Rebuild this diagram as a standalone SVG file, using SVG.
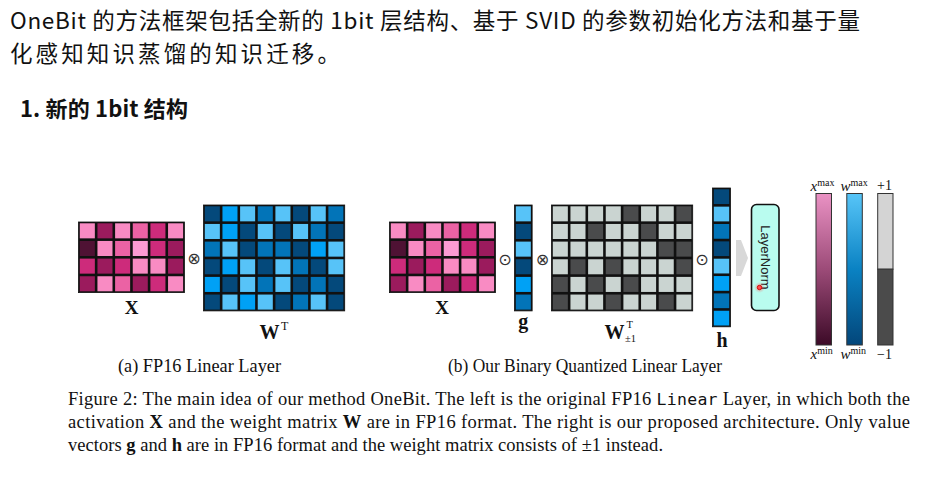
<svg xmlns="http://www.w3.org/2000/svg" xmlns:xlink="http://www.w3.org/1999/xlink" width="927" height="481" viewBox="0 0 927 481">
<style>
.cjk{font-family:"Noto Sans CJK SC","Noto Sans",sans-serif;fill:#111}
.serif{font-family:"Liberation Serif","Times New Roman",serif;fill:#111}
.bold{font-weight:bold}
.mono{font-family:"DejaVu Sans Mono","Liberation Mono",monospace}
.op{font-family:"DejaVu Sans",sans-serif;font-size:16px;fill:#333;text-anchor:middle}
.bg{fill:#111;stroke:#111;stroke-width:0.8}
.p1{fill:#F98BC3}.p2{fill:#9B1B5D}.p3{fill:#EB62A4}.p4{fill:#CD2B7B}.p5{fill:#4F1234}.p6{fill:#FC9BD3}
.b1{fill:#04497B}.b2{fill:#00A1F5}.b3{fill:#57C3F8}.b4{fill:#0274B8}
.gl{fill:#CAD4D1}.gd{fill:#4A4B4C}
.bar{stroke:#333;stroke-width:1}
</style>
<defs>
<linearGradient id="gx" x1="0" y1="0" x2="0" y2="1">
<stop offset="0" stop-color="#EA92C4"/><stop offset="0.5" stop-color="#9C4B78"/><stop offset="1" stop-color="#3C0A27"/>
</linearGradient>
<linearGradient id="gw" x1="0" y1="0" x2="0" y2="1">
<stop offset="0" stop-color="#57C5F8"/><stop offset="0.5" stop-color="#0A82C3"/><stop offset="1" stop-color="#03467A"/>
</linearGradient>
<radialGradient id="glow"><stop offset="0" stop-color="#ff3030" stop-opacity="0.6"/><stop offset="1" stop-color="#ff6060" stop-opacity="0"/></radialGradient>
<g id="xgrid">
<rect class="bg" width="105.9" height="70.6"/>
<rect x="1.3" y="1.3" width="15.05" height="15.05" class="p1"/><rect x="18.95" y="1.3" width="15.05" height="15.05" class="p2"/><rect x="36.6" y="1.3" width="15.05" height="15.05" class="p1"/><rect x="54.25" y="1.3" width="15.05" height="15.05" class="p3"/><rect x="71.9" y="1.3" width="15.05" height="15.05" class="p4"/><rect x="89.55" y="1.3" width="15.05" height="15.05" class="p1"/>
<rect x="1.3" y="18.95" width="15.05" height="15.05" class="p5"/><rect x="18.95" y="18.95" width="15.05" height="15.05" class="p1"/><rect x="36.6" y="18.95" width="15.05" height="15.05" class="p3"/><rect x="54.25" y="18.95" width="15.05" height="15.05" class="p6"/><rect x="71.9" y="18.95" width="15.05" height="15.05" class="p4"/><rect x="89.55" y="18.95" width="15.05" height="15.05" class="p2"/>
<rect x="1.3" y="36.6" width="15.05" height="15.05" class="p4"/><rect x="18.95" y="36.6" width="15.05" height="15.05" class="p2"/><rect x="36.6" y="36.6" width="15.05" height="15.05" class="p4"/><rect x="54.25" y="36.6" width="15.05" height="15.05" class="p1"/><rect x="71.9" y="36.6" width="15.05" height="15.05" class="p1"/><rect x="89.55" y="36.6" width="15.05" height="15.05" class="p2"/>
<rect x="1.3" y="54.25" width="15.05" height="15.05" class="p2"/><rect x="18.95" y="54.25" width="15.05" height="15.05" class="p1"/><rect x="36.6" y="54.25" width="15.05" height="15.05" class="p3"/><rect x="54.25" y="54.25" width="15.05" height="15.05" class="p2"/><rect x="71.9" y="54.25" width="15.05" height="15.05" class="p4"/><rect x="89.55" y="54.25" width="15.05" height="15.05" class="p1"/>
</g>
</defs>

<rect width="927" height="481" fill="#ffffff"/>

<g id="title">
<text class="cjk" x="10" y="29" font-size="22.5" textLength="850" lengthAdjust="spacing">OneBit 的方法框架包括全新的 1bit 层结构、基于 SVID 的参数初始化方法和基于量</text>
<text class="cjk" x="10" y="61.5" font-size="22.5" textLength="330" lengthAdjust="spacing">化感知知识蒸馏的知识迁移。</text>
<text class="cjk bold" x="20" y="117" font-size="22" textLength="168" lengthAdjust="spacing">1. 新的 1bit 结构</text>
</g>

<g id="node-x-fp16">
<use xlink:href="#xgrid" x="78.5" y="222"/>
<text class="serif bold" x="131.5" y="314" font-size="19" text-anchor="middle">X</text>
</g>

<g id="node-w-fp16" transform="translate(203.5,205)">
<rect class="bg" width="141.2" height="105.9"/>
<rect x="1.3" y="1.3" width="15.05" height="15.05" class="b1"/><rect x="18.95" y="1.3" width="15.05" height="15.05" class="b2"/><rect x="36.6" y="1.3" width="15.05" height="15.05" class="b3"/><rect x="54.25" y="1.3" width="15.05" height="15.05" class="b4"/><rect x="71.9" y="1.3" width="15.05" height="15.05" class="b3"/><rect x="89.55" y="1.3" width="15.05" height="15.05" class="b1"/><rect x="107.2" y="1.3" width="15.05" height="15.05" class="b3"/><rect x="124.85" y="1.3" width="15.05" height="15.05" class="b4"/>
<rect x="1.3" y="18.95" width="15.05" height="15.05" class="b3"/><rect x="18.95" y="18.95" width="15.05" height="15.05" class="b2"/><rect x="36.6" y="18.95" width="15.05" height="15.05" class="b1"/><rect x="54.25" y="18.95" width="15.05" height="15.05" class="b3"/><rect x="71.9" y="18.95" width="15.05" height="15.05" class="b1"/><rect x="89.55" y="18.95" width="15.05" height="15.05" class="b3"/><rect x="107.2" y="18.95" width="15.05" height="15.05" class="b4"/><rect x="124.85" y="18.95" width="15.05" height="15.05" class="b1"/>
<rect x="1.3" y="36.6" width="15.05" height="15.05" class="b4"/><rect x="18.95" y="36.6" width="15.05" height="15.05" class="b3"/><rect x="36.6" y="36.6" width="15.05" height="15.05" class="b1"/><rect x="54.25" y="36.6" width="15.05" height="15.05" class="b4"/><rect x="71.9" y="36.6" width="15.05" height="15.05" class="b4"/><rect x="89.55" y="36.6" width="15.05" height="15.05" class="b1"/><rect x="107.2" y="36.6" width="15.05" height="15.05" class="b2"/><rect x="124.85" y="36.6" width="15.05" height="15.05" class="b3"/>
<rect x="1.3" y="54.25" width="15.05" height="15.05" class="b1"/><rect x="18.95" y="54.25" width="15.05" height="15.05" class="b2"/><rect x="36.6" y="54.25" width="15.05" height="15.05" class="b3"/><rect x="54.25" y="54.25" width="15.05" height="15.05" class="b1"/><rect x="71.9" y="54.25" width="15.05" height="15.05" class="b3"/><rect x="89.55" y="54.25" width="15.05" height="15.05" class="b4"/><rect x="107.2" y="54.25" width="15.05" height="15.05" class="b1"/><rect x="124.85" y="54.25" width="15.05" height="15.05" class="b3"/>
<rect x="1.3" y="71.9" width="15.05" height="15.05" class="b2"/><rect x="18.95" y="71.9" width="15.05" height="15.05" class="b1"/><rect x="36.6" y="71.9" width="15.05" height="15.05" class="b3"/><rect x="54.25" y="71.9" width="15.05" height="15.05" class="b4"/><rect x="71.9" y="71.9" width="15.05" height="15.05" class="b3"/><rect x="89.55" y="71.9" width="15.05" height="15.05" class="b1"/><rect x="107.2" y="71.9" width="15.05" height="15.05" class="b4"/><rect x="124.85" y="71.9" width="15.05" height="15.05" class="b1"/>
<rect x="1.3" y="89.55" width="15.05" height="15.05" class="b1"/><rect x="18.95" y="89.55" width="15.05" height="15.05" class="b3"/><rect x="36.6" y="89.55" width="15.05" height="15.05" class="b2"/><rect x="54.25" y="89.55" width="15.05" height="15.05" class="b3"/><rect x="71.9" y="89.55" width="15.05" height="15.05" class="b1"/><rect x="89.55" y="89.55" width="15.05" height="15.05" class="b4"/><rect x="107.2" y="89.55" width="15.05" height="15.05" class="b3"/><rect x="124.85" y="89.55" width="15.05" height="15.05" class="b1"/>
<text class="serif bold" x="66" y="133.5" font-size="20" text-anchor="middle">W</text>
<text class="serif" x="77.5" y="125" font-size="12">T</text>
</g>

<g id="node-x-bin">
<use xlink:href="#xgrid" x="389.5" y="222"/>
<text class="serif bold" x="442" y="314" font-size="19" text-anchor="middle">X</text>
</g>

<g id="node-g" transform="translate(514.5,205)">
<rect class="bg" width="17.65" height="105.9"/>
<rect x="1.3" y="1.3" width="15.05" height="15.05" class="b3"/>
<rect x="1.3" y="18.95" width="15.05" height="15.05" class="b1"/>
<rect x="1.3" y="36.6" width="15.05" height="15.05" class="b3"/>
<rect x="1.3" y="54.25" width="15.05" height="15.05" class="b1"/>
<rect x="1.3" y="71.9" width="15.05" height="15.05" class="b2"/>
<rect x="1.3" y="89.55" width="15.05" height="15.05" class="b4"/>
<text class="serif bold" x="8.8" y="122.5" font-size="20" text-anchor="middle">g</text>
</g>

<g id="node-w-bin" transform="translate(551.5,205)">
<rect class="bg" width="141.2" height="105.9"/>
<rect x="1.3" y="1.3" width="15.05" height="15.05" class="gl"/><rect x="18.95" y="1.3" width="15.05" height="15.05" class="gl"/><rect x="36.6" y="1.3" width="15.05" height="15.05" class="gl"/><rect x="54.25" y="1.3" width="15.05" height="15.05" class="gl"/><rect x="71.9" y="1.3" width="15.05" height="15.05" class="gd"/><rect x="89.55" y="1.3" width="15.05" height="15.05" class="gl"/><rect x="107.2" y="1.3" width="15.05" height="15.05" class="gl"/><rect x="124.85" y="1.3" width="15.05" height="15.05" class="gd"/>
<rect x="1.3" y="18.95" width="15.05" height="15.05" class="gl"/><rect x="18.95" y="18.95" width="15.05" height="15.05" class="gl"/><rect x="36.6" y="18.95" width="15.05" height="15.05" class="gd"/><rect x="54.25" y="18.95" width="15.05" height="15.05" class="gl"/><rect x="71.9" y="18.95" width="15.05" height="15.05" class="gl"/><rect x="89.55" y="18.95" width="15.05" height="15.05" class="gd"/><rect x="107.2" y="18.95" width="15.05" height="15.05" class="gl"/><rect x="124.85" y="18.95" width="15.05" height="15.05" class="gl"/>
<rect x="1.3" y="36.6" width="15.05" height="15.05" class="gl"/><rect x="18.95" y="36.6" width="15.05" height="15.05" class="gl"/><rect x="36.6" y="36.6" width="15.05" height="15.05" class="gl"/><rect x="54.25" y="36.6" width="15.05" height="15.05" class="gl"/><rect x="71.9" y="36.6" width="15.05" height="15.05" class="gl"/><rect x="89.55" y="36.6" width="15.05" height="15.05" class="gl"/><rect x="107.2" y="36.6" width="15.05" height="15.05" class="gd"/><rect x="124.85" y="36.6" width="15.05" height="15.05" class="gd"/>
<rect x="1.3" y="54.25" width="15.05" height="15.05" class="gl"/><rect x="18.95" y="54.25" width="15.05" height="15.05" class="gd"/><rect x="36.6" y="54.25" width="15.05" height="15.05" class="gl"/><rect x="54.25" y="54.25" width="15.05" height="15.05" class="gd"/><rect x="71.9" y="54.25" width="15.05" height="15.05" class="gl"/><rect x="89.55" y="54.25" width="15.05" height="15.05" class="gl"/><rect x="107.2" y="54.25" width="15.05" height="15.05" class="gl"/><rect x="124.85" y="54.25" width="15.05" height="15.05" class="gd"/>
<rect x="1.3" y="71.9" width="15.05" height="15.05" class="gd"/><rect x="18.95" y="71.9" width="15.05" height="15.05" class="gl"/><rect x="36.6" y="71.9" width="15.05" height="15.05" class="gd"/><rect x="54.25" y="71.9" width="15.05" height="15.05" class="gl"/><rect x="71.9" y="71.9" width="15.05" height="15.05" class="gd"/><rect x="89.55" y="71.9" width="15.05" height="15.05" class="gl"/><rect x="107.2" y="71.9" width="15.05" height="15.05" class="gl"/><rect x="124.85" y="71.9" width="15.05" height="15.05" class="gl"/>
<rect x="1.3" y="89.55" width="15.05" height="15.05" class="gd"/><rect x="18.95" y="89.55" width="15.05" height="15.05" class="gl"/><rect x="36.6" y="89.55" width="15.05" height="15.05" class="gl"/><rect x="54.25" y="89.55" width="15.05" height="15.05" class="gd"/><rect x="71.9" y="89.55" width="15.05" height="15.05" class="gl"/><rect x="89.55" y="89.55" width="15.05" height="15.05" class="gl"/><rect x="107.2" y="89.55" width="15.05" height="15.05" class="gd"/><rect x="124.85" y="89.55" width="15.05" height="15.05" class="gl"/>
<text class="serif bold" x="63" y="134" font-size="20" text-anchor="middle">W</text>
<text class="serif" x="75" y="122.5" font-size="10.5">T</text>
<text class="serif" x="73.5" y="136.5" font-size="10.5">±1</text>
</g>

<g id="node-h" transform="translate(712.5,188)">
<rect class="bg" width="18" height="138.8"/>
<rect x="1.3" y="1.3" width="15.4" height="14.75" class="b1"/>
<rect x="1.3" y="18.65" width="15.4" height="14.75" class="b3"/>
<rect x="1.3" y="36" width="15.4" height="14.75" class="b4"/>
<rect x="1.3" y="53.35" width="15.4" height="14.75" class="b1"/>
<rect x="1.3" y="70.7" width="15.4" height="14.75" class="b3"/>
<rect x="1.3" y="88.05" width="15.4" height="14.75" class="b2"/>
<rect x="1.3" y="105.4" width="15.4" height="14.75" class="b4"/>
<rect x="1.3" y="122.75" width="15.4" height="14.75" class="b2"/>
<text class="serif bold" x="9.5" y="159" font-size="20" text-anchor="middle">h</text>
</g>

<g id="node-layernorm">
<rect x="751.5" y="204.5" width="27.5" height="106" rx="5" fill="#B9FCEF" stroke="#111" stroke-width="1.6"/>
<text x="765.5" y="257.5" transform="rotate(90 765.5 257.5)" font-family="'Liberation Sans',Arial,sans-serif" font-size="13" fill="#222" text-anchor="middle" dominant-baseline="central">LayerNorm</text>
<circle cx="759.5" cy="287.5" r="5.5" fill="url(#glow)"/>
<circle cx="759.5" cy="287.5" r="2.2" fill="#ff5050" stroke="#d00000" stroke-width="0.9"/>
</g>

<g id="connectors">
<text class="op" x="194" y="263.5">⊗</text>
<text class="op" x="505" y="264.5">⊙</text>
<text class="op" x="542.5" y="264.5">⊗</text>
<text class="op" x="702" y="264.5">⊙</text>
<polygon points="736,240 741,240 748,258 741,276 736,276" fill="#D8D8D8"/>
</g>

<g id="node-colorbars">
<rect class="bar" x="816" y="193.5" width="15.5" height="151.5" fill="url(#gx)"/>
<rect class="bar" x="846.8" y="193.5" width="15.5" height="151.5" fill="url(#gw)"/>
<rect class="bar" x="877.7" y="193.5" width="15.3" height="75.7" fill="#D4D4D4"/>
<rect class="bar" x="877.7" y="269.2" width="15.3" height="75.8" fill="#4B4B4B"/>
<text class="serif" x="810.5" y="191" font-size="15"><tspan font-style="italic">x</tspan><tspan font-size="10" dy="-5.5">max</tspan></text>
<text class="serif" x="840.5" y="191" font-size="15"><tspan font-style="italic">w</tspan><tspan font-size="10" dy="-5.5">max</tspan></text>
<text class="serif" x="877" y="190" font-size="14">+1</text>
<text class="serif" x="810.5" y="359" font-size="15"><tspan font-style="italic">x</tspan><tspan font-size="10" dy="-5.5">min</tspan></text>
<text class="serif" x="840.5" y="359" font-size="15"><tspan font-style="italic">w</tspan><tspan font-size="10" dy="-5.5">min</tspan></text>
<text class="serif" x="877" y="359" font-size="14">−1</text>
</g>

<g id="captions">
<text class="serif" x="118" y="372" font-size="18.3" textLength="163" lengthAdjust="spacingAndGlyphs">(a) FP16 Linear Layer</text>
<text class="serif" x="448" y="372" font-size="18.3" textLength="274" lengthAdjust="spacingAndGlyphs">(b) Our Binary Quantized Linear Layer</text>
<text class="serif" x="68" y="405" font-size="18.5" textLength="842" lengthAdjust="spacing">Figure 2: The main idea of our method OneBit. The left is the original FP16 <tspan class="mono" font-size="16.5">Linear</tspan> Layer, in which both the</text>
<text class="serif" x="68" y="428" font-size="18.5" textLength="842" lengthAdjust="spacing">activation <tspan class="bold">X</tspan> and the weight matrix <tspan class="bold">W</tspan> are in FP16 format. The right is our proposed architecture. Only value</text>
<text class="serif" x="68" y="451" font-size="18.5" textLength="595" lengthAdjust="spacing">vectors <tspan class="bold">g</tspan> and <tspan class="bold">h</tspan> are in FP16 format and the weight matrix consists of ±1 instead.</text>
</g>
</svg>
